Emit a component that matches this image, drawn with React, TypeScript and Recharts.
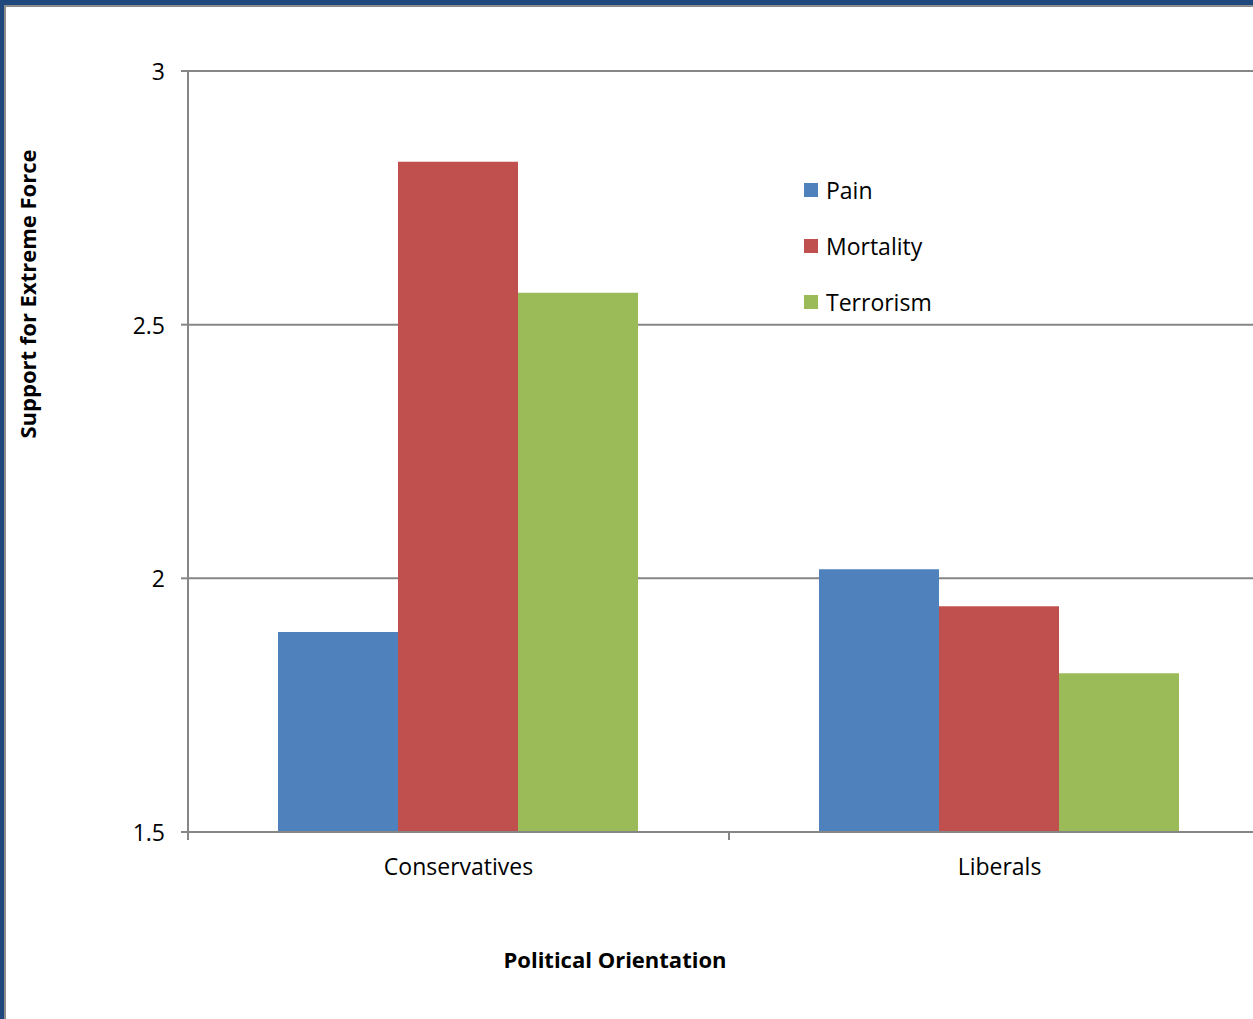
import React from "react";
import {
  BarChart,
  Bar,
  XAxis,
  YAxis,
  CartesianGrid,
  Label,
} from "recharts";

const groups = ["Conservatives", "Liberals"];
const pain = [1.894, 2.018];
const mortality = [2.821, 1.945];
const terrorism = [2.563, 1.813];
const yTicks = [1.5, 2, 2.5, 3];

const seriesInfo = [
  { key: "Pain", color: "#4F81BD", values: pain },
  { key: "Mortality", color: "#C0504D", values: mortality },
  { key: "Terrorism", color: "#9BBB59", values: terrorism },
];

const data = groups.map((g, i) => ({
  group: g,
  Pain: pain[i],
  Mortality: mortality[i],
  Terrorism: terrorism[i],
}));

const FONT = "'Open Sans', sans-serif";
const FS = 23;
const FS_TITLE = 22;
const GRID = "#868686";
const CHART_W = 1290;
const PLOT_LEFT = 188;
const PLOT_RIGHT = 1270;
const HALF_BAND = (PLOT_RIGHT - PLOT_LEFT) / groups.length / 2;

const XTick = (props: any) => {
  const { x, y, payload, index } = props;
  const last = index === groups.length - 1;
  const ay = y - 30;
  return (
    <g>
      <line x1={x - HALF_BAND} x2={x - HALF_BAND} y1={ay} y2={ay + 8} stroke={GRID} strokeWidth={2} />
      {last && (
        <line x1={x + HALF_BAND} x2={x + HALF_BAND} y1={ay} y2={ay + 8} stroke={GRID} strokeWidth={2} />
      )}
      <text x={x} y={y} dy={13} textAnchor="middle" fontSize={FS} fill="#000" fontFamily={FONT}>
        {payload.value}
      </text>
    </g>
  );
};

const YTick = (props: any) => {
  const { x, y, payload } = props;
  return (
    <text x={x} y={y} dy={9} textAnchor="end" fontSize={FS} fill="#000" fontFamily={FONT}>
      {payload.value}
    </text>
  );
};

export default function App() {
  return (
    <div style={{ position: "absolute", left: 0, top: 0, width: 1253, height: 1019, overflow: "hidden", background: "#fff" }}>
      <BarChart
        width={CHART_W}
        height={1019}
        data={data}
        margin={{ top: 71, right: CHART_W - PLOT_RIGHT, bottom: 127, left: 0 }}
        barCategoryGap={90}
        barGap={0}
        style={{ fontFamily: FONT }}
      >
        <CartesianGrid vertical={false} stroke={GRID} strokeWidth={2} />
        <XAxis
          dataKey="group"
          height={60}
          tickLine={false}
          axisLine={{ stroke: GRID, strokeWidth: 2 }}
          tick={<XTick />}
          tickMargin={24}
          interval={0}
        >
          <Label
            content={() => (
              <text x={615} y={968} textAnchor="middle" fontSize={FS_TITLE} fontWeight="bold" fontFamily={FONT} fill="#000">
                Political Orientation
              </text>
            )}
          />
        </XAxis>
        <YAxis
          width={PLOT_LEFT}
          domain={[1.5, 3]}
          ticks={yTicks}
          tickSize={7}
          tickMargin={16}
          tickLine={{ stroke: GRID, strokeWidth: 2 }}
          axisLine={{ stroke: GRID, strokeWidth: 2 }}
          tick={<YTick />}
          allowDataOverflow
        >
          <Label
            content={() => (
              <text
                x={36}
                y={294}
                transform="rotate(-90 36 294)"
                textAnchor="middle"
                fontSize={FS_TITLE}
                fontWeight="bold"
                fontFamily={FONT}
                fill="#000"
              >
                Support for Extreme Force
              </text>
            )}
          />
        </YAxis>
        {seriesInfo.map((s) => (
          <Bar key={s.key} dataKey={s.key} fill={s.color} isAnimationActive={false} />
        ))}
      </BarChart>
      <div style={{ position: "absolute", left: 804, top: 162, fontFamily: FONT, fontSize: FS, color: "#000" }}>
        {seriesInfo.map((s) => (
          <div key={s.key} style={{ display: "flex", alignItems: "center", height: 56 }}>
            <span style={{ width: 14, height: 14, background: s.color, display: "inline-block", marginRight: 8 }} />
            <span>{s.key}</span>
          </div>
        ))}
      </div>
      <div style={{ position: "absolute", left: 0, top: 0, width: 1253, height: 5, background: "#1F497D" }} />
      <div style={{ position: "absolute", left: 0, top: 5, width: 1253, height: 2, background: "#8C8C8C" }} />
      <div style={{ position: "absolute", left: 0, top: 0, width: 4, height: 1019, background: "#1F497D" }} />
      <div style={{ position: "absolute", left: 4, top: 5, width: 2, height: 1014, background: "#8C8C8C" }} />
    </div>
  );
}
